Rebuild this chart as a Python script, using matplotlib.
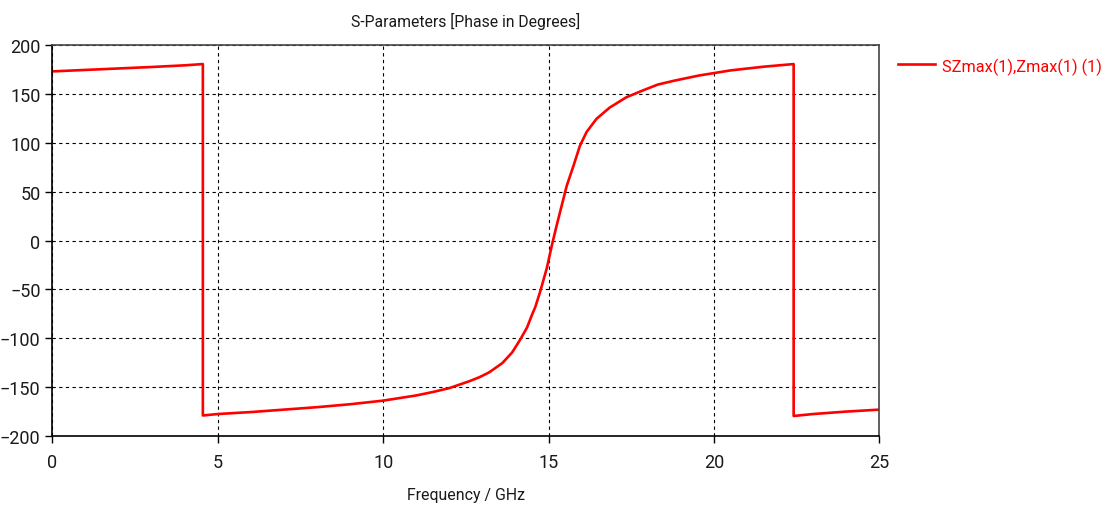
import matplotlib
matplotlib.use("Agg")
import matplotlib.pyplot as plt

freq_ghz = [0, 1, 2, 3, 4, 4.55, 4.55, 5, 6, 7, 8, 9, 10, 11, 11.5, 12, 12.6, 12.9, 13.2,
            13.6, 13.9, 14.15, 14.35, 14.5, 14.6, 14.75, 14.95, 15.1, 15.25, 15.4,
            15.55, 15.75, 15.95, 16.15, 16.45, 16.85, 17.35, 17.85, 18.3, 18.8, 19.55,
            20.5, 21.5, 22.41, 22.41, 23, 24, 25]
phase_deg = [173, 174.5, 176, 177.5, 179.2, 180.5, -179, -177.5, -175.5, -173, -170.5,
             -167.5, -163.8, -158.5, -155, -151, -144, -140, -135, -125.5, -114.5, -101,
             -89, -76, -68, -52, -28, -5, 16, 36, 56, 76, 97, 111, 124.5, 136, 146.5,
             153.5, 159.5, 163.5, 168.8, 174, 177.8, 180.5, -179.5, -177.5, -175, -173]

x_ticks = [0, 5, 10, 15, 20, 25]
y_ticks = [-200, -150, -100, -50, 0, 50, 100, 150, 200]
title = "S-Parameters [Phase in Degrees]"
xlabel = "Frequency / GHz"
series_label = "SZmax(1),Zmax(1) (1)"

plt.rcParams['font.family'] = ['Roboto', 'DejaVu Sans']

fig = plt.figure(figsize=(11.09, 5.10), dpi=100)
ax = fig.add_axes([0.0472, 0.1431, 0.7457, 0.7667])

line, = ax.plot(freq_ghz, phase_deg, color='#ff0000', lw=1.9, label=series_label)

ax.set_xlim(0, 25)
ax.set_ylim(-200, 200)
ax.set_xticks(x_ticks)
ax.set_yticks(y_ticks)
ax.tick_params(axis='both', direction='out', length=5, width=1, colors='black',
               labelsize=13, labelcolor='#1a1a1a')
ax.tick_params(axis='x', pad=7)
ax.grid(True, color='black', linestyle=(0, (3, 3)), linewidth=0.8)
ax.set_axisbelow(True)
for s in ['left', 'bottom']:
    ax.spines[s].set_color('black')
    ax.spines[s].set_linewidth(1.2)
for s in ['top', 'right']:
    ax.spines[s].set_color('#444444')
    ax.spines[s].set_linewidth(1.2)

t_title = ax.set_title(title, fontsize=13.5, color='#1a1a1a', pad=14)
t_xlab = ax.set_xlabel(xlabel, fontsize=13.5, color='#1a1a1a', labelpad=12)

leg = fig.legend(handles=[line], labels=[series_label], loc='center left',
                 bbox_to_anchor=(0.8097, 0.869), frameon=False,
                 prop={'size': 14},
                 handlelength=1.9, handletextpad=0.35, borderaxespad=0, borderpad=0)
leg_text = leg.get_texts()[0]
leg_text.set_color('#ff0000')

# fit text widths to the reference (pixels)
fig.canvas.draw()
r = fig.canvas.get_renderer()
for txt, target in [(t_title, 230), (t_xlab, 118), (leg_text, 160)]:
    w = txt.get_window_extent(r).width
    txt.set_fontsize(txt.get_fontsize() * target / w)

fig.savefig("out.png", dpi=100)
